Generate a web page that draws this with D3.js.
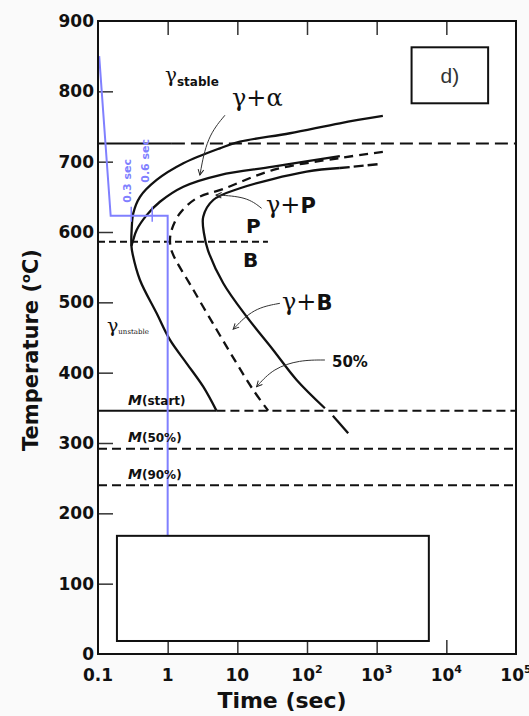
<!DOCTYPE html>
<html><head><meta charset="utf-8">
<script src="https://cdn.jsdelivr.net/npm/d3@7"></script>
<style>
html,body{margin:0;padding:0;background:#fafafa;}
svg{display:block;}
</style></head><body>
<svg id="chart" width="529" height="716"></svg>
<script>
// ---- axis ticks ----
const tempTicks = [0, 100, 200, 300, 400, 500, 600, 700, 800, 900];
const timeTicks = [0.1, 1, 10, 100, 1000, 10000, 100000];
const timeTickBase = ["0.1", "1", "10", "10", "10", "10", "10"];
const timeTickExp = ["", "", "", "2", "3", "4", "5"];

// ---- transformation curves: [time (s), temperature (°C)] ----
// ferrite start, joined through the nose to the bainite start branch
const ferriteStart = [[1227,765],[296,754.6],[56.9,740.4],[10.9,728.4],[5.63,719],[1.68,697.7],
  [0.695,674],[0.401,650],[0.321,626.6],[0.304,603],[0.302,580]];
const bainiteStart = [[0.302,580],[0.315,568],[0.40,531.8],[0.695,484.4],[1.08,446.5],
  [1.87,413.3],[3.24,380],[5.01,346]];
// pearlite start, meeting the nose
const pearliteStart = [[296,708],[32.7,692.9],[5.63,681],[1.68,664.4],[0.775,643],[0.50,624],
  [0.359,603],[0.321,589],[0.302,580]];
// 50 % transformed (dashed)
const halfTransformed = [[1227,713.8],[296,705.2],[32.7,688.2],[6.28,661.2],[2.61,648],[1.50,626.6],
  [1.14,603],[1.08,588],[1.15,572],[2.33,518],[5.05,461],[9.77,413.3],[16.9,375.4],[27.7,346]];
// transformation finish
const finishTail = [[1030,696.3],[296,691]];
const finish = [[296,691],[98.6,685.8],[10.9,662.2],[4.51,645.5],[3.24,621.8],[3.32,598.2],[3.78,574.4],
  [6.28,527.1],[13.6,479.6],[32.7,432.3],[71,389.6],[180.7,349.4]];
const finishBelowMs = [[235,338.7],[390,313.8]];

// ---- isotherms (°C) ----
const ae1 = 726, ae1SolidEnd = 1.15;
const pearliteBainite = 586, pearliteBainiteEnd = 27.5;
const mStart = 346, mStartSolidEnd = 5.01;
const m50 = 292, m90 = 240;

// ---- cooling path ----
const coolingPath = [[0.104,850],[0.152,623],[1.0,623],[1.0,100]];
const holdTemp = 623;
const holdMarks = [0.3, 0.6];
const holdLabels = ["0.3 sec", "0.6 sec"];

// ---- leader arrows ----
const arrowAlpha = [[6.64,766],[3.66,735],[2.90,681]];
const arrowPearlite = [[22.3,633.7],[13.6,650.2],[4.93,652.6]];
const arrowBainite = [[40.8,498.6],[16.9,491.5],[8.73,461.7]];
const arrowHalf = [[180.7,418],[79,418],[32.7,406.2],[18.9,380]];

// ---- boxes ----
const panelBox = [[3170,862.6],[39800,783]];
const blankBox = [[0.187,168],[5610,18.5]];

const svg = d3.select("#chart");
const x = d3.scaleLog().domain([0.1, 1e5]).range([98, 516]);
const y = d3.scaleLinear().domain([0, 900]).range([654, 21]);
const sans = "'DejaVu Sans', Verdana, sans-serif";
const serif = "'DejaVu Serif', 'Liberation Serif', serif";

// plot background
svg.append("rect").attr("x", x(0.1)).attr("y", y(900))
  .attr("width", x(1e5) - x(0.1)).attr("height", y(0) - y(900)).attr("fill", "#fff");

const defs = svg.append("defs");
defs.append("marker").attr("id", "arr").attr("viewBox", "0 0 10 10")
  .attr("refX", 9).attr("refY", 5).attr("markerWidth", 7).attr("markerHeight", 7)
  .attr("orient", "auto").attr("markerUnits", "userSpaceOnUse")
  .append("path").attr("d", "M1,1 L9,5 L1,9").attr("fill", "none")
  .attr("stroke", "#222").attr("stroke-width", 1.4);

// inward ticks
const tickStyle = g => { g.select(".domain").remove(); g.selectAll("line").attr("stroke", "#333").attr("stroke-width", 1.5); g.selectAll("text").remove(); };
svg.append("g").attr("transform", `translate(0,${y(0)})`)
  .call(d3.axisBottom(x).tickValues(timeTicks.slice(1, -1)).tickSize(-14)).call(tickStyle);
svg.append("g").attr("transform", `translate(0,${y(900)})`)
  .call(d3.axisTop(x).tickValues(timeTicks.slice(1, -1)).tickSize(-14)).call(tickStyle);
svg.append("g").attr("transform", `translate(${x(0.1)},0)`)
  .call(d3.axisLeft(y).tickValues(tempTicks.slice(1, -1)).tickSize(-15)).call(tickStyle);

// tick labels
svg.append("g").selectAll("text").data(tempTicks).join("text")
  .attr("x", 94).attr("y", d => y(d)).attr("dy", "0.36em")
  .attr("text-anchor", "end").attr("font-family", sans).attr("font-weight", "bold")
  .attr("font-size", 17).attr("fill", "#111").text(d => d);
const xl = svg.append("g").selectAll("text").data(timeTicks).join("text")
  .attr("x", d => x(d)).attr("y", 681).attr("text-anchor", "middle")
  .attr("font-family", sans).attr("font-weight", "bold").attr("font-size", 17).attr("fill", "#111");
xl.append("tspan").text((d, i) => timeTickBase[i]);
xl.append("tspan").attr("dy", -8).attr("font-size", 11).text((d, i) => timeTickExp[i]);

// axis titles
svg.append("text").attr("x", 282).attr("y", 708).attr("text-anchor", "middle")
  .attr("font-family", sans).attr("font-weight", "bold").attr("font-size", 22).attr("fill", "#111")
  .text("Time (sec)");
const yt = svg.append("text").attr("transform", "translate(38,350) rotate(-90)").attr("text-anchor", "middle")
  .attr("font-family", sans).attr("font-weight", "bold").attr("font-size", 21).attr("fill", "#111");
yt.append("tspan").text("Temperature  (");
yt.append("tspan").attr("font-size", 13).attr("dy", -8).text("o");
yt.append("tspan").attr("dy", 8).text("C)");

const line = d3.line().x(d => x(d[0])).y(d => y(d[1])).curve(d3.curveCatmullRom.alpha(0.5));
const straight = d3.line().x(d => x(d[0])).y(d => y(d[1]));

// isotherms
const iso = (t0, t1, T, dash) => svg.append("path").attr("d", straight([[t0, T], [t1, T]]))
  .attr("stroke", "#111").attr("stroke-width", 2).attr("fill", "none").attr("stroke-dasharray", dash);
iso(0.1, ae1SolidEnd, ae1, null);
iso(ae1SolidEnd, 1e5, ae1, "13,6");
iso(0.1, pearliteBainiteEnd, pearliteBainite, "7,4");
iso(0.1, mStartSolidEnd, mStart, null);
iso(mStartSolidEnd, 1e5, mStart, "9,5");
iso(0.1, 1e5, m50, "9,5");
iso(0.1, 1e5, m90, "9,5");

// transformation curves
const curve = (data, dash, w) => svg.append("path").attr("d", line(data)).attr("fill", "none")
  .attr("stroke", "#111").attr("stroke-width", w || 2.3).attr("stroke-dasharray", dash);
curve(ferriteStart.concat(bainiteStart.slice(1)), null);
curve(pearliteStart, null);
curve(halfTransformed, "9,6");
curve(finish, null);
curve(finishTail, "10,4");
curve(finishBelowMs, null);

// leader arrows
[arrowAlpha, arrowPearlite, arrowBainite, arrowHalf].forEach(a =>
  svg.append("path").attr("d", d3.line().x(d => x(d[0])).y(d => y(d[1])).curve(d3.curveBasis)(a))
    .attr("fill", "none").attr("stroke", "#333").attr("stroke-width", 1).attr("marker-end", "url(#arr)"));

// cooling path
const blue = "#8080ff";
svg.append("path").attr("d", straight(coolingPath)).attr("fill", "none")
  .attr("stroke", blue).attr("stroke-width", 2);
holdMarks.forEach((t, i) => {
  svg.append("line").attr("x1", x(t)).attr("x2", x(t)).attr("y1", y(holdTemp) - 9).attr("y2", y(holdTemp) + 6)
    .attr("stroke", blue).attr("stroke-width", 1.5);
});
svg.append("text").attr("transform", `translate(${x(0.3) - 4},${y(holdTemp) - 35}) rotate(-90)`)
  .attr("text-anchor", "middle").attr("dy", "0.35em").attr("font-family", sans).attr("font-weight", "bold")
  .attr("font-size", 11).attr("fill", blue).text(holdLabels[0]);
svg.append("text").attr("transform", `translate(${x(0.6) - 7},${y(holdTemp) - 55}) rotate(-90)`)
  .attr("text-anchor", "middle").attr("dy", "0.35em").attr("font-family", sans).attr("font-weight", "bold")
  .attr("font-size", 11).attr("fill", blue).text(holdLabels[1]);

// phase labels
const lab = (px, py, parts) => {
  const t = svg.append("text").attr("x", px).attr("y", py).attr("fill", "#111");
  parts.forEach(p => t.append("tspan").attr("font-family", p.f).attr("font-size", p.s)
    .attr("font-weight", p.w || "normal").attr("font-style", p.i ? "italic" : "normal")
    .attr("dy", p.dy || 0).text(p.t));
  return t;
};
lab(165, 82, [{t: "γ", f: serif, s: 20}, {t: "stable", f: sans, s: 12, w: "bold", dy: 4}]);
lab(232, 106, [{t: "γ+α", f: serif, s: 24}]);
lab(266, 213, [{t: "γ+", f: serif, s: 24}, {t: "P", f: sans, s: 21, w: "bold"}]);
lab(246, 233, [{t: "P", f: sans, s: 20, w: "bold"}]);
lab(243, 267, [{t: "B", f: sans, s: 20, w: "bold"}]);
lab(282, 310, [{t: "γ+", f: serif, s: 24}, {t: "B", f: sans, s: 21, w: "bold"}]);
lab(332, 367, [{t: "50%", f: sans, s: 15, w: "bold"}]);
lab(107, 332, [{t: "γ", f: serif, s: 19}, {t: "unstable", f: serif, s: 7, dy: 2}]);
lab(128, 405, [{t: "M", f: sans, s: 14, w: "bold", i: true}, {t: "(start)", f: sans, s: 12, w: "bold"}]);
lab(128, 442, [{t: "M", f: sans, s: 14, w: "bold", i: true}, {t: "(50%)", f: sans, s: 12, w: "bold"}]);
lab(128, 479, [{t: "M", f: sans, s: 14, w: "bold", i: true}, {t: "(90%)", f: sans, s: 12, w: "bold"}]);

// boxes
const box = (b, stroke) => svg.append("rect").attr("x", x(b[0][0])).attr("y", y(b[0][1]))
  .attr("width", x(b[1][0]) - x(b[0][0])).attr("height", y(b[1][1]) - y(b[0][1]))
  .attr("fill", "#fff").attr("stroke", "#111").attr("stroke-width", stroke);
box(panelBox, 2);
svg.append("text").attr("x", (x(panelBox[0][0]) + x(panelBox[1][0])) / 2)
  .attr("y", (y(panelBox[0][1]) + y(panelBox[1][1])) / 2).attr("dy", "0.36em").attr("text-anchor", "middle")
  .attr("font-family", "'Liberation Sans', Arial, sans-serif").attr("font-size", 21).attr("fill", "#333").text("d)");
box(blankBox, 2);

// frame
svg.append("rect").attr("x", x(0.1)).attr("y", y(900))
  .attr("width", x(1e5) - x(0.1)).attr("height", y(0) - y(900))
  .attr("fill", "none").attr("stroke", "#111").attr("stroke-width", 2);
</script></body></html>
